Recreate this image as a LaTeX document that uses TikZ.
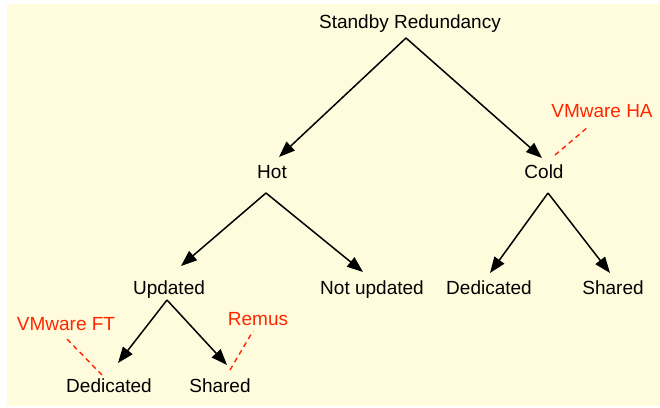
\documentclass[tikz,border=0pt]{standalone}
\usepackage{fontspec}
\setmainfont{Liberation Sans}
\usetikzlibrary{arrows.meta}
\definecolor{bgyellow}{RGB}{255,252,221}
\definecolor{labred}{RGB}{255,38,0}
\begin{document}
\begin{tikzpicture}[x=1pt,y=-1pt,
  lbl/.style={font=\fontsize{19}{23}\selectfont, inner sep=0pt, anchor=base},
  redlbl/.style={lbl, text=labred},
  arr/.style={line width=1.5pt, -{Triangle[length=16pt,width=12pt]}},
  note/.style={draw=labred, line width=1.4pt, dash pattern=on 5pt off 4pt}]
\useasboundingbox (0,0) rectangle (660,407);
\fill[bgyellow] (7,4) rectangle (660,406);
% nodes
\node[lbl] (root) at (410,28) {Standby Redundancy};
\node[lbl] (hot) at (272,178) {Hot};
\node[lbl] (cold) at (544,178) {Cold};
\node[lbl] (upd) at (169,294) {Updated};
\node[lbl] (notupd) at (372,294) {Not updated};
\node[lbl] (cded) at (489,294) {Dedicated};
\node[lbl] (cshr) at (613,294) {Shared};
\node[lbl] (uded) at (109,392) {Dedicated};
\node[lbl] (ushr) at (220,392) {Shared};
\node[redlbl] (ha) at (602,117) {VMware HA};
\node[redlbl] (ft) at (66,330) {VMware FT};
\node[redlbl] (remus) at (258,325) {Remus};
% connector points
\coordinate (rootout) at (406,38);
\coordinate (hotin) at (279,157);
\coordinate (coldin) at (542,158);
\coordinate (hotout) at (266,193);
\coordinate (updin) at (181,266);
\coordinate (notupdin) at (363,272);
\coordinate (coldout) at (548,193);
\coordinate (cdedin) at (490,273);
\coordinate (cshrin) at (610,273);
\coordinate (updout) at (167,300);
\coordinate (udedin) at (118,363);
\coordinate (ushrin) at (227,365);
% arrows
\draw[arr] (rootout) -- (hotin);
\draw[arr] (rootout) -- (coldin);
\draw[arr] (hotout) -- (updin);
\draw[arr] (hotout) -- (notupdin);
\draw[arr] (coldout) -- (cdedin);
\draw[arr] (coldout) -- (cshrin);
\draw[arr] (updout) -- (udedin);
\draw[arr] (updout) -- (ushrin);
% annotation lines
\coordinate (haend) at (588,127);
\coordinate (hastart) at (555,155);
\coordinate (ftend) at (65,337);
\coordinate (ftstart) at (102,375);
\coordinate (remend) at (253,331);
\coordinate (remstart) at (230,370);
\draw[note] (hastart) -- (haend);
\draw[note] (ftstart) -- (ftend);
\draw[note] (remstart) -- (remend);
\end{tikzpicture}
\end{document}
